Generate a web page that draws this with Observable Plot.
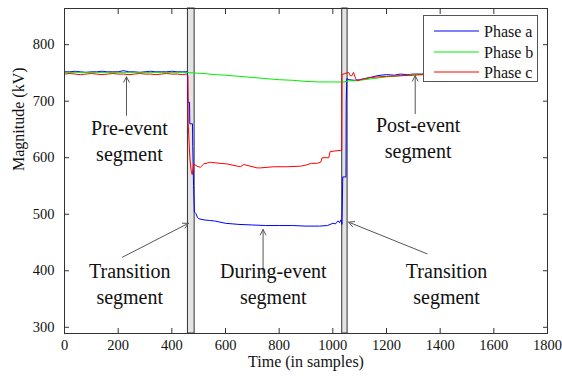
<!DOCTYPE html>
<html><head><meta charset="utf-8">
<script src="https://cdn.jsdelivr.net/npm/d3@7"></script>
<script src="https://cdn.jsdelivr.net/npm/@observablehq/plot@0.6"></script>
<style>
body{margin:0;background:#fff;}
#wrap{position:relative;width:562px;height:377px;font-family:'Liberation Serif';}
#topline{position:absolute;left:0;top:3px;width:562px;height:1px;background:#c8c8c8;}
#legend{position:absolute;left:423px;top:15px;width:115px;height:67px;border:1px solid #555;background:#fff;box-sizing:border-box;}
</style></head><body><div id="wrap"><div id="topline"></div></div>
<script>
// ---- data ----
const phaseNames = ["Phase a", "Phase b", "Phase c"];
const phaseColors = ["#0000ff", "#00ee00", "#ff0000"];

const tA = [0,20,40,60,80,100,120,140,160,180,200,220,240,260,280,300,320,340,360,380,400,420,440,458,460,466,467,477,478,481,484,486,490,495,500,520,540,560,600,650,700,750,800,850,900,950,980,1000,1010,1015,1020,1025,1030,1034,1037,1049,1050,1052,1060,1080,1100,1120,1140,1165,1180,1200,1230,1251,1280,1300,1325,1340];
const vA = [752,752,753,752,751,752,752,753,752,752,752,754,752,752,751,752,753,752,752,752,753,752,752,752,698,698,660,660,620,551,504,503,501,495,492,490,489,488,484,482,481,480,480,480,479,479,480,484,483,486,488,485,490,482,566,566,700,740,738,737,738,740,742,745,746,747,746,748,747,748,748,748];

const tB = [0,40,80,120,160,200,240,280,320,360,400,440,480,520,560,600,650,700,750,800,850,900,950,1000,1040,1060,1080,1100,1150,1200,1250,1300,1340];
const vB = [751,751,751,751,751,751,751,751,751,751,751,751,750,749,747,746,744,742,740,738,737,735,734,734,734,736,736,737,740,743,745,747,748];

const tC = [0,20,40,60,80,100,120,140,160,180,200,220,240,260,280,300,320,340,360,380,400,420,440,455,460,461,463,467,472,476,481,494,506,519,543,580,606,655,668,718,730,780,830,879,900,920,940,955,960,985,990,1030,1033,1034,1045,1059,1065,1071,1077,1085,1090,1110,1140,1200,1252,1300,1340];
const vC = [748,749,748,747,748,749,748,747,748,749,748,748,747,748,749,748,748,747,748,749,748,748,747,748,745,660,640,601,577,570,589,585,583,589,592,590,589,584,588,582,582,584,584,585,587,590,590,592,600,600,611,613,613,747,749,751,745,745,751,740,736,739,742,744,745,746,747];

const bandStart = [460, 1035];
const bandEnd = [485, 1055];

const xTicks = [0,200,400,600,800,1000,1200,1400,1600,1800];
const yTicks = [300,400,500,600,700,800];

const annText = ["Pre-event\nsegment", "Transition\nsegment", "During-event\nsegment", "Post-event\nsegment", "Transition\nsegment"];
const annX = [242, 243, 778, 1318, 1424];
const annY = [632, 379, 379, 638, 379];

const arrX1 = [231, 216, 740, 1307, 1351];
const arrY1 = [675, 424, 395, 678, 430];
const arrX2 = [231, 462, 740, 1307, 1059];
const arrY2 = [743, 484, 473, 745, 486];

const xLabel = "Time (in samples)";
const yLabel = "Magnitude (kV)";

// ---- build ----
const series = [[tA, vA], [tB, vB], [tC, vC]];
const bands = bandStart.map((s, i) => ({x1: s, x2: bandEnd[i]}));
const anns = annText.map((t, i) => ({t, x: annX[i], y: annY[i]}));
const arrows = arrX1.map((x1, i) => ({x1, y1: arrY1[i], x2: arrX2[i], y2: arrY2[i]}));
const font = "Liberation Serif";
const axisCol = "#333";
const fmt = d => String(d);

const lineMarks = series.map(([t, v], k) =>
  Plot.line(d3.zip(t, v), {x: d => d[0], y: d => d[1], stroke: phaseColors[k], strokeWidth: 1})
);

const chart = Plot.plot({
  width: 562, height: 377,
  marginLeft: 64, marginRight: 15, marginTop: 8, marginBottom: 44,
  style: {background: "#fff", color: "#111", overflow: "visible"},
  x: {domain: [0, 1800]},
  y: {domain: [289, 864]},
  marks: [
    Plot.rect(bands, {x1: "x1", x2: "x2", fill: "#e4e4e4", stroke: "#333", strokeWidth: 1}),
    ...lineMarks,
    Plot.arrow(arrows, {x1: "x1", y1: "y1", x2: "x2", y2: "y2", stroke: "#555", strokeWidth: 1, headLength: 9, headAngle: 55}),
    Plot.text(anns, {x: "x", y: "y", text: "t", fontSize: 20, lineHeight: 1.3, fill: "#111"}),
    Plot.frame({stroke: axisCol}),
    Plot.axisX({anchor: "bottom", ticks: xTicks, tickSize: 5, dy: -5, tickFormat: () => "", label: null, stroke: axisCol}),
    Plot.axisX({anchor: "top", ticks: xTicks, tickSize: 5, dy: 5, tickFormat: () => "", label: null, stroke: axisCol}),
    Plot.axisY({anchor: "left", ticks: yTicks, tickSize: 5, dx: 5, tickFormat: () => "", label: null, stroke: axisCol}),
    Plot.axisY({anchor: "right", ticks: yTicks, tickSize: 5, dx: -5, tickFormat: () => "", label: null, stroke: axisCol}),
    Plot.axisX({anchor: "bottom", ticks: xTicks, tickSize: 0, tickPadding: 6, tickFormat: fmt, label: null, fontSize: 14.5, fill: "#111"}),
    Plot.axisY({anchor: "left", ticks: yTicks, tickSize: 0, tickPadding: 10, tickFormat: fmt, label: null, fontSize: 14.5, fill: "#111"}),
    Plot.text([xLabel], {frameAnchor: "bottom", dy: 33, fontSize: 16, fill: "#111"}),
    Plot.text([yLabel], {frameAnchor: "left", dx: -46, rotate: -90, fontSize: 16, fill: "#111"})
  ]
});

// force the serif face on every text node
chart.setAttribute("font-family", font);
chart.style.fontFamily = "'Liberation Serif'";
chart.querySelectorAll("g, text, tspan").forEach(el => {
  if (el.hasAttribute("font-family")) el.setAttribute("font-family", font);
});
chart.querySelectorAll("text").forEach(el => { el.style.fontFamily = "'Liberation Serif'"; });

const wrap = document.getElementById("wrap");
wrap.appendChild(chart);
chart.style.position = "absolute"; chart.style.left = "0"; chart.style.top = "0";

// legend overlay
const leg = document.createElement("div");
leg.id = "legend";
const rowY = [15, 36, 56];
let svg = `<svg width="113" height="65" style="position:absolute;left:0;top:0">`;
phaseNames.forEach((n, i) => {
  svg += `<line x1="10" x2="55" y1="${rowY[i]}" y2="${rowY[i]}" stroke="${phaseColors[i]}" stroke-width="1"/>`;
  svg += `<text x="60" y="${rowY[i]}" dy="0.35em" font-size="16" fill="#111" style="font-family:'Liberation Serif'">${n}</text>`;
});
svg += `</svg>`;
leg.innerHTML = svg;
wrap.appendChild(leg);
</script>
</body></html>
